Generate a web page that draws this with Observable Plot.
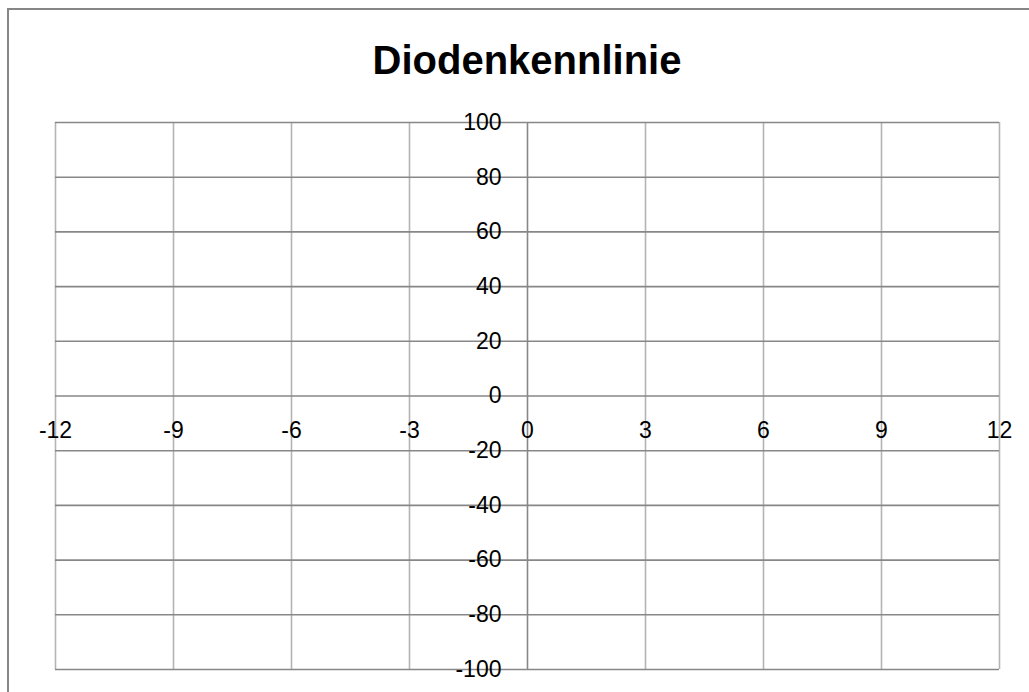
<!DOCTYPE html>
<html>
<head>
<meta charset="utf-8">
<script src="https://cdn.jsdelivr.net/npm/d3@7"></script>
<script src="https://cdn.jsdelivr.net/npm/@observablehq/plot@0.6"></script>
<style>
  html, body { margin: 0; padding: 0; background: #fff; }
  #wrap { position: relative; width: 1029px; height: 692px; overflow: hidden; background: #fff; }
  #frame { position: absolute; left: 7px; top: 8px; width: 1100px; height: 800px; border-left: 2px solid #868686; border-top: 2px solid #868686; box-sizing: border-box; }
  #title { position: absolute; left: 0; top: 36px; width: 1054px; text-align: center; font-family: "Liberation Sans", Arial, sans-serif; font-weight: bold; font-size: 40px; line-height: 48px; color: #000; }
  #chart { position: absolute; left: 0; top: 0; }
</style>
</head>
<body>
<div id="wrap">
  <div id="frame"></div>
  <div id="chart"></div>
  <div id="title">Diodenkennlinie</div>
</div>
<script>
const titleText = "Diodenkennlinie";
const xTicks = [-12, -9, -6, -3, 0, 3, 6, 9, 12];
const yTicks = [-100, -80, -60, -40, -20, 0, 20, 40, 60, 80, 100];

const chart = Plot.plot({
  width: 1029,
  height: 692,
  marginLeft: 55,
  marginRight: 30,
  marginTop: 122,
  marginBottom: 23,
  x: { domain: [-12, 12], axis: null },
  y: { domain: [-100, 100], axis: null },
  style: { fontFamily: "'Liberation Sans', Arial, sans-serif", background: "transparent", overflow: "visible" },
  marks: [
    Plot.ruleX(xTicks.filter(d => d !== 0), { x: d => d, stroke: "#b4b4b4", strokeWidth: 1.6 }),
    Plot.ruleY(yTicks, { y: d => d, stroke: "#878787", strokeWidth: 1.6 }),
    Plot.ruleX([0], { x: d => d, stroke: "#878787", strokeWidth: 1.6 }),
    Plot.text(yTicks, { x: 0, y: d => d, text: d => String(d), textAnchor: "end", dx: -26, fontSize: 23, fill: "#000" }),
    Plot.text(xTicks, { x: d => d, y: 0, text: d => String(d), textAnchor: "middle", dy: 35, fontSize: 23, fill: "#000" })
  ]
});
document.getElementById("chart").appendChild(chart);
document.getElementById("title").textContent = titleText;
</script>
</body>
</html>
